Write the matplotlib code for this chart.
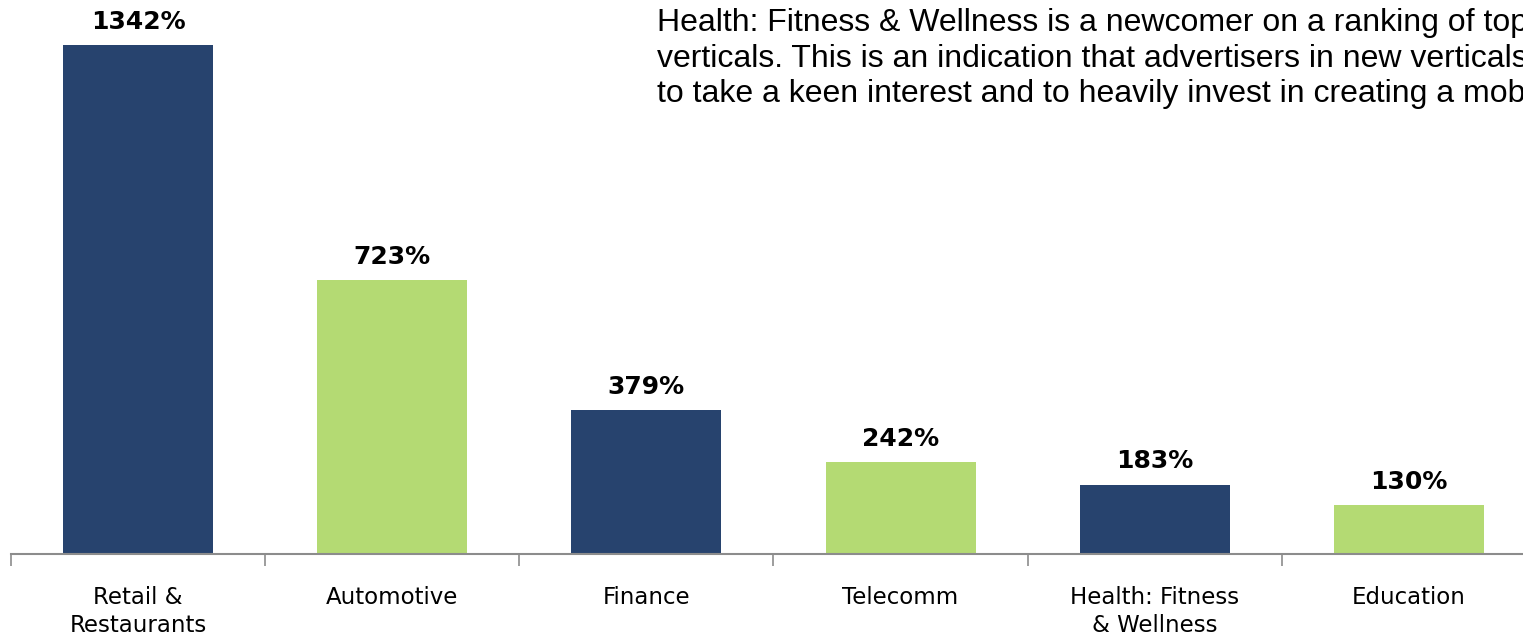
import matplotlib
matplotlib.use("Agg")
import matplotlib.pyplot as plt
from matplotlib.ticker import FixedLocator

# growth by vertical, in percent
categories = ["Retail &\nRestaurants", "Automotive", "Finance", "Telecomm",
              "Health: Fitness\n& Wellness", "Education"]
growth = [1342, 723, 379, 242, 183, 130]
bar_colors = ["#27436E", "#B4DA73", "#27436E", "#B4DA73", "#27436E", "#B4DA73"]

note = ("Health: Fitness & Wellness is a newcomer on a ranking of top\n"
        "verticals. This is an indication that advertisers in new verticals\n"
        "to take a keen interest and to heavily invest in creating a mobile")

W, H = 1523, 636
fig = plt.figure(figsize=(W / 100, H / 100), dpi=100)
ax = fig.add_axes([11 / W, 82 / H, 1525 / W, 554 / H])

x = list(range(len(growth)))
ax.bar(x, growth, width=0.59, color=bar_colors)

for xi, v in zip(x, growth):
    ax.annotate(f"{v}%", (xi, v), xytext=(0, 8), textcoords="offset points",
                ha="center", va="bottom", fontsize=18, fontweight="bold",
                family="DejaVu Sans", color="black", annotation_clip=False)

ax.set_xlim(-0.5, 5.5)
ax.set_ylim(0, 1460)

for side in ("top", "left", "right"):
    ax.spines[side].set_visible(False)
ax.spines["bottom"].set_color("#8C8C8C")
ax.spines["bottom"].set_linewidth(1.5)
ax.set_yticks([])

ax.set_xticks(x)
ax.set_xticklabels(categories, fontsize=16.5, family="DejaVu Sans", linespacing=1.3)
ax.tick_params(axis="x", which="major", length=0, pad=23)
ax.xaxis.set_minor_locator(FixedLocator([i - 0.5 for i in range(len(growth) + 1)]))
ax.tick_params(axis="x", which="minor", length=8.5, width=1.2, color="#8C8C8C",
               direction="out")

# note runs past the right edge of the figure
fig.text(657 / W, 1 - 8 / H, note, ha="left", va="top", fontsize=23,
         family="Liberation Sans", linespacing=1.24, color="black")

fig.savefig("out.png", dpi=100)
